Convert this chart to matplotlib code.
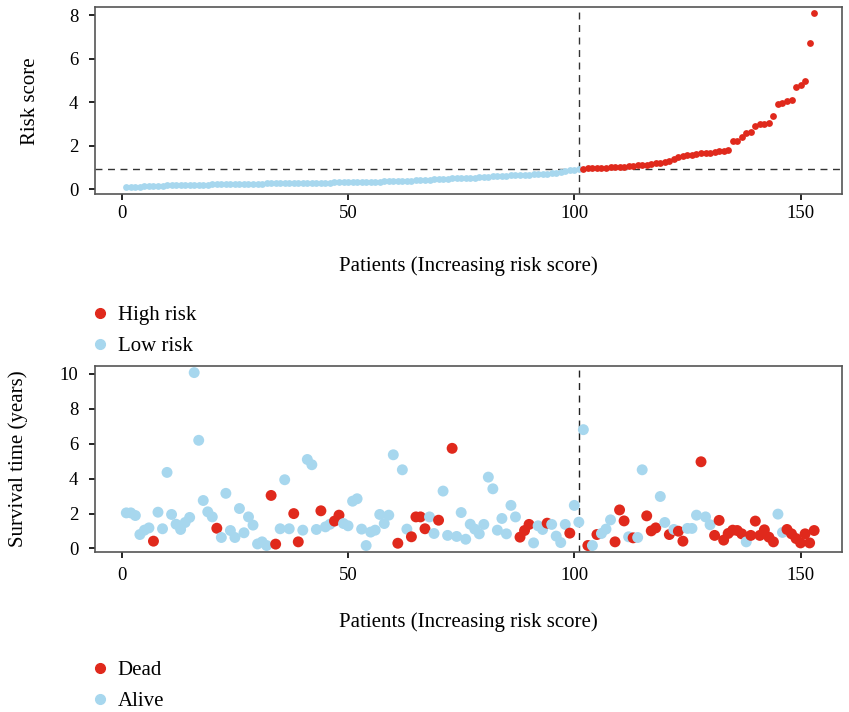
import matplotlib
matplotlib.use("Agg")
import matplotlib.pyplot as plt
from matplotlib.lines import Line2D

plt.rcParams['font.family'] = ['Liberation Serif', 'DejaVu Serif']

RED = '#E0291C'
BLUE = '#A7D7EE'

# risk scores, sorted (low-risk group first)
low_risk = [0.10, 0.11, 0.12, 0.13, 0.14, 0.15, 0.16, 0.17, 0.17, 0.18,
            0.19, 0.19, 0.20, 0.20, 0.21, 0.21, 0.22, 0.22, 0.22, 0.23,
            0.23, 0.23, 0.24, 0.24, 0.24, 0.25, 0.25, 0.25, 0.26, 0.26,
            0.26, 0.27, 0.27, 0.27, 0.28, 0.28, 0.28, 0.29, 0.29, 0.29,
            0.30, 0.30, 0.30, 0.31, 0.31, 0.31, 0.32, 0.32, 0.33, 0.33,
            0.33, 0.34, 0.34, 0.35, 0.35, 0.36, 0.36, 0.37, 0.37, 0.38,
            0.38, 0.39, 0.39, 0.40, 0.41, 0.41, 0.42, 0.43, 0.46, 0.47,
            0.48, 0.49, 0.50, 0.50, 0.51, 0.52, 0.53, 0.54, 0.57, 0.58,
            0.59, 0.60, 0.61, 0.62, 0.63, 0.64, 0.65, 0.66, 0.67, 0.68,
            0.69, 0.70, 0.71, 0.72, 0.74, 0.76, 0.80, 0.84, 0.88, 0.90, 0.93]
high_risk = [0.95, 0.96, 0.97, 0.98, 0.99, 1.00, 1.01, 1.02, 1.04,
             1.05, 1.07, 1.08, 1.10, 1.12, 1.14, 1.17, 1.20, 1.22, 1.24,
             1.30, 1.40, 1.50, 1.55, 1.58, 1.60,
             1.63, 1.65, 1.67, 1.69, 1.71, 1.74, 1.77, 1.80,
             2.22, 2.24, 2.42, 2.58, 2.62, 2.90, 3.00, 3.02, 3.05, 3.37,
             3.93, 3.97, 4.05, 4.12, 4.72, 4.78, 4.98, 6.72, 8.10]
cutoff = 0.93

# survival time (years) per patient, same order
surv_time = [2.04, 2.04, 1.89, 0.80, 1.05, 1.18, 0.42, 2.08, 1.13, 4.36,
             1.95, 1.39, 1.09, 1.49, 1.78, 10.08, 6.20, 2.75, 2.10, 1.81,
             1.16, 0.63, 3.16, 1.03, 0.63, 2.29, 0.90, 1.81, 1.34, 0.26,
             0.38, 0.17, 3.04, 0.25, 1.13, 3.94, 1.13, 2.00, 0.38, 1.05,
             5.10, 4.80, 1.09, 2.16, 1.24, 1.39, 1.57, 1.91, 1.43, 1.30,
             2.71, 2.85, 1.11, 0.17, 0.94, 1.05, 1.95, 1.43, 1.91, 5.37,
             0.30, 4.51, 1.11, 0.67, 1.81, 1.81, 1.13, 1.81, 0.86, 1.62,
             3.29, 0.75, 5.74, 0.69, 2.06, 0.53, 1.39, 1.11, 0.84, 1.38,
             4.09, 3.42, 1.05, 1.72, 0.84, 2.47, 1.81, 0.65, 1.03, 1.38,
             0.32, 1.30, 1.09, 1.45, 1.38, 0.71, 0.34, 1.38, 0.88, 2.47,
             1.51, 6.81, 0.17, 0.17, 0.80, 0.86, 1.11, 1.64, 0.38, 2.21,
             1.58, 0.67, 0.61, 0.63, 4.51, 1.87, 1.01, 1.18, 2.98, 1.49,
             0.80, 1.09, 0.99, 0.42, 1.15, 1.15, 1.91, 4.97, 1.81, 1.36,
             0.75, 1.61, 0.48, 0.86, 1.05, 1.03, 0.84, 0.38, 0.75, 1.57,
             0.75, 1.07, 0.65, 0.38, 1.97, 0.92, 1.09, 0.84, 0.57, 0.32,
             0.84, 0.32, 1.03]
dead_idx = [7, 21, 33, 34, 38, 39, 44, 47, 48, 61, 64, 65, 66, 67, 70, 73,
            88, 89, 90, 94, 99, 103, 105, 109, 110, 111, 113, 116, 117, 118,
            121, 123, 124, 128, 131, 132, 133, 134, 135, 136, 137, 139, 140,
            141, 142, 143, 144, 147, 148, 149, 150, 151, 152, 153]

n_low = len(low_risk)
n = n_low + len(high_risk)
x_low = list(range(1, n_low + 1))
x_high = list(range(n_low + 1, n + 1))
patients = list(range(1, n + 1))
dead = set(dead_idx)
colors = [RED if p in dead else BLUE for p in patients]

fig = plt.figure(figsize=(8.49, 7.12), dpi=100)
ax1 = fig.add_axes([0.112, 0.727, 0.880, 0.263])
ax2 = fig.add_axes([0.112, 0.225, 0.880, 0.261])

ax1.scatter(x_low, low_risk, s=24, color=BLUE, lw=0, zorder=3)
ax1.scatter(x_high, high_risk, s=24, color=RED, lw=0, zorder=3)
ax1.axhline(cutoff, color='#333333', ls=(0, (5, 4)), lw=1)
ax1.axvline(n_low, color='#333333', ls=(0, (5, 4)), lw=1)
ax1.set_xlim(-5.9, 159.2)
ax1.set_ylim(-0.23, 8.37)
ax1.set_yticks([0, 2, 4, 6, 8])
ax1.set_ylabel('Risk score', fontsize=15, va='center')
ax1.yaxis.set_label_coords(-0.087, 0.5)
ax1.set_xlabel('Patients (Increasing risk score)', fontsize=15, va='center')
ax1.xaxis.set_label_coords(0.5, -0.383)

ax2.scatter(patients, surv_time, s=62, c=colors, lw=0, zorder=3)
ax2.axvline(n_low, color='#222222', ls=(0, (5, 4)), lw=1)
ax2.set_xlim(-5.9, 159.2)
ax2.set_ylim(-0.19, 10.46)
ax2.set_yticks([0, 2, 4, 6, 8, 10])
ax2.set_ylabel('Survival time (years)', fontsize=15, va='center')
ax2.yaxis.set_label_coords(-0.103, 0.5)
ax2.set_xlabel('Patients (Increasing risk score)', fontsize=15, va='center')
ax2.xaxis.set_label_coords(0.5, -0.379)

for ax in (ax1, ax2):
    ax.set_xticks([0, 50, 100, 150])
    for sp in ax.spines.values():
        sp.set_color('#555555')
        sp.set_linewidth(1.2)
    ax.tick_params(direction='out', length=4, width=1.2, labelsize=13.5,
                   color='black', pad=8)
ax1.tick_params(axis='x', pad=3.5)
ax2.tick_params(axis='x', pad=7)

leg_kw = dict(loc='upper left', frameon=False, fontsize=15,
              handletextpad=0.35, labelspacing=0.55, handlelength=1.0)
h1 = [Line2D([], [], marker='o', ls='', color=RED, markersize=7),
      Line2D([], [], marker='o', ls='', color=BLUE, markersize=7)]
fig.legend(h1, ['High risk', 'Low risk'], bbox_to_anchor=(0.0834, 0.597),
           **leg_kw)
h2 = [Line2D([], [], marker='o', ls='', color=RED, markersize=7),
      Line2D([], [], marker='o', ls='', color=BLUE, markersize=7)]
fig.legend(h2, ['Dead', 'Alive'], bbox_to_anchor=(0.0834, 0.0983),
           **leg_kw)

fig.savefig('out.png', dpi=100)
